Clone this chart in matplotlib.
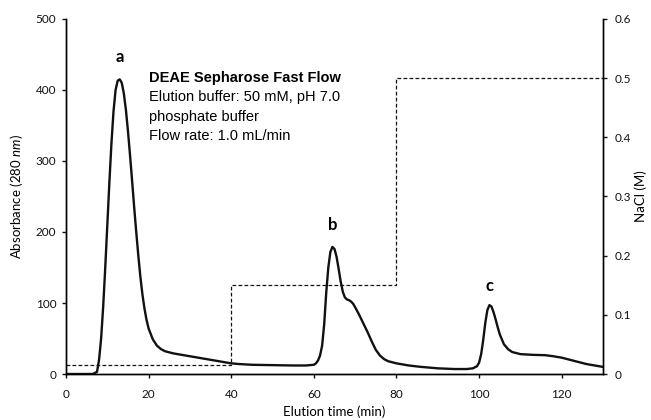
import matplotlib.pyplot as plt

# Chromatogram (absorbance at 280 nm)
time_min = [0, 6.5, 7.5, 8, 8.5, 9, 9.5, 10, 10.5, 11, 11.5, 12, 12.5, 13, 13.5,
            14, 14.5, 15, 15.5, 16, 16.5, 17, 17.5, 18, 18.5, 19, 19.5, 20, 21,
            22, 23, 24, 26, 28, 30, 32, 34, 36, 38, 40, 42, 45, 50, 55, 58, 60,
            60.5, 61, 61.5, 62, 62.5, 63, 63.5, 64, 64.5, 65, 65.5, 66, 66.5, 67,
            67.5, 68, 68.5, 69, 69.5, 70, 71, 72, 73, 74, 75, 76, 77, 78, 80, 83,
            86, 90, 94, 97, 98.5, 99.5, 100, 100.5, 101, 101.5, 102, 102.5, 103,
            103.5, 104, 104.5, 105, 106, 107, 108, 110, 113, 116, 118, 120, 122,
            124, 126, 128, 130]
absorbance = [0, 0, 3, 20, 50, 95, 150, 210, 270, 325, 370, 400, 413, 415, 410,
              395, 372, 342, 308, 272, 235, 200, 167, 137, 112, 92, 76, 64, 49,
              40, 35, 32, 29, 27, 25, 23, 21, 19, 17, 15, 14, 13, 12.5, 12, 12, 13,
              15, 19, 26, 40, 70, 115, 150, 172, 179, 176, 165, 148, 130, 116,
              108, 105, 104, 102, 99, 94, 83, 71, 59, 46, 34, 26, 21, 18, 15, 12,
              10, 8, 7, 7, 8, 11, 16, 28, 48, 72, 90, 97, 95,
              87, 77, 66, 56, 42, 35, 31, 28, 27, 26.5, 25, 23, 20,
              17, 14, 12, 10]

# NaCl step gradient
step_time = [0, 40, 80, 130]
step_nacl = [0.015, 0.15, 0.5, 0.5]

# peak labels
peak_names = ['a', 'b', 'c']
peak_time = [13.1, 64.6, 102.4]
peak_label_y = [446, 210, 124]

plt.rcParams['font.family'] = ['Lato', 'DejaVu Sans']
plt.rcParams['mathtext.fontset'] = 'custom'
plt.rcParams['mathtext.rm'] = 'Lato'
plt.rcParams['mathtext.it'] = 'Lato:italic'

fig = plt.figure(figsize=(6.51, 4.2), dpi=100)
ax = fig.add_axes([0.1014, 0.1095, 0.8249, 0.8453])
ax2 = ax.twinx()

ax.plot(time_min, absorbance, color='#111111', lw=1.7, solid_joinstyle='round', zorder=3)
ax2.plot(step_time, step_nacl, drawstyle='steps-post', color='#111111',
         lw=0.9, linestyle=(0, (3, 1.8)))

ax.set_xlim(0, 130)
ax.set_ylim(0, 500)
ax2.set_ylim(0, 0.6)
ax.set_xticks(range(0, 121, 20))
ax.set_yticks(range(0, 501, 100))
ax2.set_yticks([0, 0.1, 0.2, 0.3, 0.4, 0.5, 0.6])
ax2.set_yticklabels(['0', '0.1', '0.2', '0.3', '0.4', '0.5', '0.6'])

for a in (ax, ax2):
    a.spines['top'].set_visible(False)
    for s in ('left', 'right', 'bottom'):
        a.spines[s].set_linewidth(1.0)
    a.tick_params(length=3, width=1.0, labelsize=8.5, colors='#111111')
ax.tick_params(axis='x', pad=8)
ax.tick_params(axis='y', pad=4)
ax2.tick_params(axis='y', pad=5)

ax.set_xlabel('Elution time (min)', fontsize=9.5, labelpad=4)
ax.set_ylabel(r'Absorbance (280 $\mathit{nm}$)', fontsize=9.5, labelpad=8)
ax2.set_ylabel('NaCl (M)', fontsize=9.5, labelpad=3)

for name, t, y in zip(peak_names, peak_time, peak_label_y):
    ax.text(t, y, name, ha='center', va='center', fontsize=12, fontweight='bold')

tx = dict(family=['Liberation Sans', 'DejaVu Sans'], fontsize=10.5)
ax.text(0.154, 0.835, 'DEAE Sepharose Fast Flow', transform=ax.transAxes,
        fontweight='bold', va='center', **tx)
ax.text(0.154, 0.779, 'Elution buffer: 50 mM, pH 7.0', transform=ax.transAxes, va='center', **tx)
ax.text(0.154, 0.725, 'phosphate buffer', transform=ax.transAxes, va='center', **tx)
ax.text(0.154, 0.670, 'Flow rate: 1.0 mL/min', transform=ax.transAxes, va='center', **tx)

fig.savefig('out.png', dpi=100)
